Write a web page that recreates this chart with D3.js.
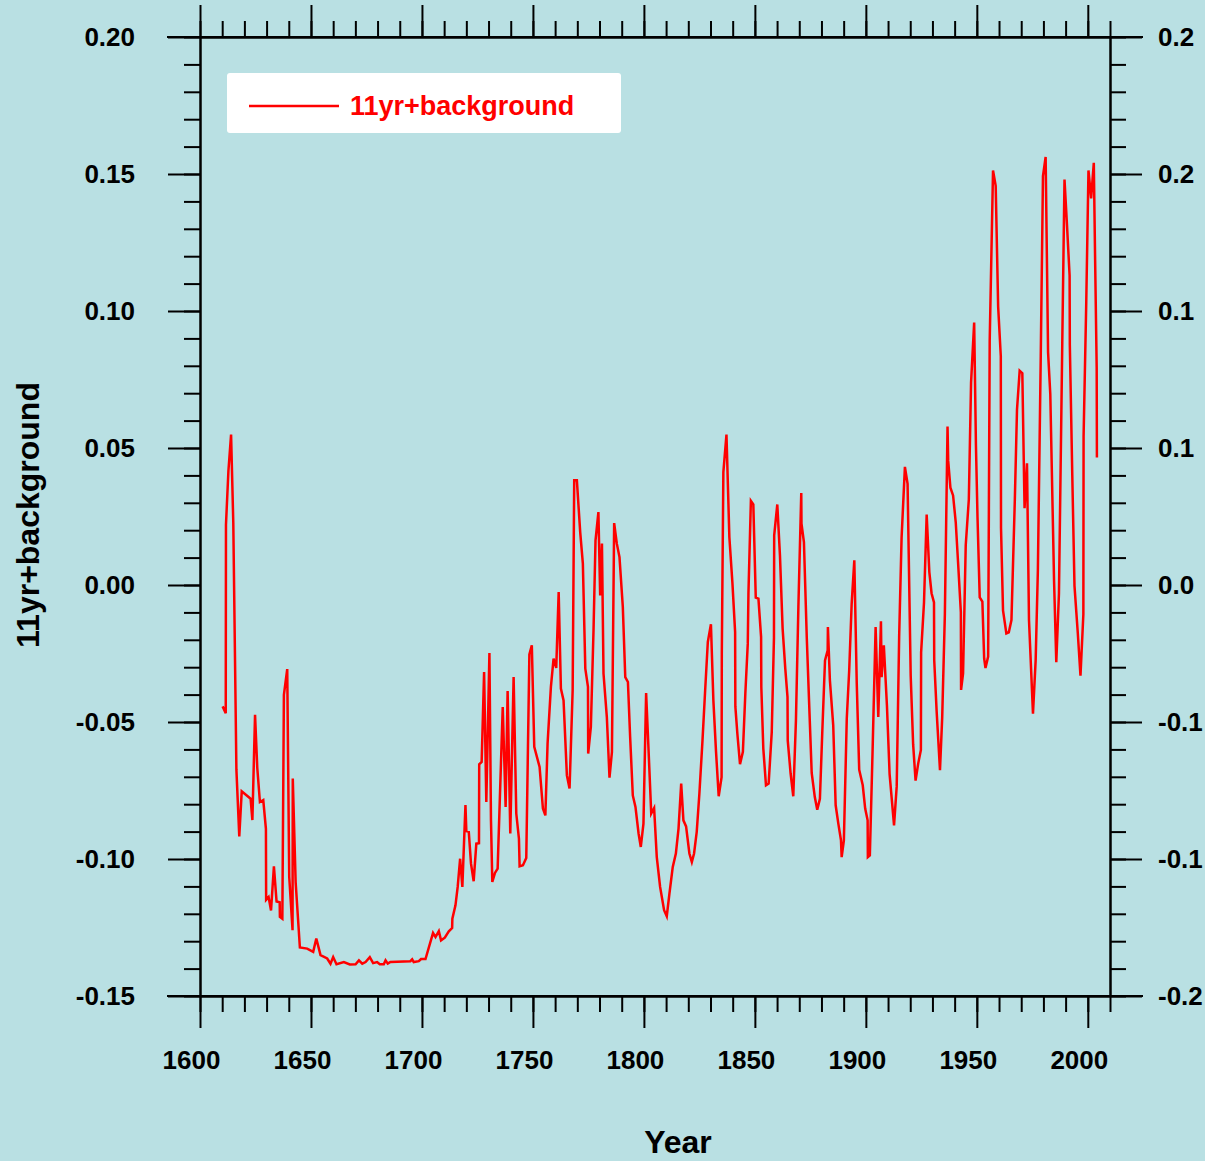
<!DOCTYPE html>
<html>
<head>
<meta charset="utf-8">
<script src="https://cdn.jsdelivr.net/npm/d3@7"></script>
<style>
  body { margin: 0; background: #b9e0e3; }
  svg { display: block; font-family: "Liberation Sans", Arial, sans-serif; }
  .axis path, .axis line { stroke: #000; stroke-width: 2; }
  .axis text { font-size: 26px; font-weight: bold; fill: #000; }
  .title { font-size: 32px; font-weight: bold; fill: #000; }
</style>
</head>
<body>
<div id="chart"></div>
<script>
// series vertices: year, value
var years = [
  1610.2, 1611.6, 1611.7, 1612.8, 1614.0, 1615.0, 1616.4, 1617.7, 1618.8, 1622.8,
  1623.6, 1624.8, 1625.8, 1627.0, 1628.5, 1629.7, 1629.8, 1630.9, 1632.0, 1633.3,
  1634.5, 1635.9, 1636.0, 1637.1, 1637.8, 1639.3, 1640.2, 1641.7, 1641.8, 1643.1,
  1645.0, 1648.3, 1651.0, 1652.4, 1654.3, 1657.3, 1658.8, 1660.0, 1661.5, 1664.8,
  1667.5, 1670.1, 1671.6, 1673.1, 1674.6, 1676.5, 1678.0, 1679.8, 1681.0, 1682.8,
  1683.6, 1684.6, 1685.8, 1694.8, 1695.6, 1696.3, 1698.6, 1699.6, 1701.6, 1705.0,
  1706.1, 1707.6, 1708.6, 1710.3, 1712.1, 1713.6, 1713.7, 1715.1, 1716.1, 1717.2,
  1718.2, 1719.6, 1720.0, 1721.1, 1722.1, 1723.3, 1724.5, 1725.7, 1725.8, 1726.9,
  1728.0, 1729.0, 1730.4, 1731.1, 1731.7, 1732.9, 1734.1, 1736.4, 1737.7, 1738.6,
  1739.8, 1741.3, 1742.5, 1743.7, 1744.0, 1745.5, 1747.0, 1748.4, 1749.5, 1750.6,
  1753.0, 1754.5, 1755.6, 1756.6, 1758.1, 1759.3, 1760.5, 1761.6, 1762.6, 1763.8,
  1765.3, 1766.5, 1767.9, 1768.6, 1769.8, 1771.3, 1772.5, 1773.6, 1774.8, 1774.9,
  1776.1, 1777.3, 1778.2, 1779.5, 1780.3, 1781.1, 1781.8, 1783.3, 1784.5, 1785.6,
  1786.6, 1787.8, 1789.0, 1790.5, 1791.6, 1792.8, 1793.8, 1795.0, 1796.2, 1797.6,
  1798.6, 1799.8, 1801.0, 1802.1, 1803.3, 1804.6, 1805.8, 1807.3, 1809.1, 1810.3,
  1811.5, 1813.0, 1814.4, 1815.6, 1816.8, 1817.8, 1819.0, 1820.5, 1821.6, 1822.6,
  1823.8, 1825.0, 1826.4, 1827.6, 1828.8, 1830.2, 1831.3, 1832.5, 1833.7, 1835.0,
  1835.1, 1835.8, 1837.2, 1838.5, 1839.9, 1841.1, 1841.2, 1842.1, 1843.3, 1844.6,
  1845.7, 1846.8, 1847.1, 1848.2, 1849.3, 1850.4, 1851.6, 1852.8, 1852.9, 1853.8,
  1855.0, 1856.2, 1857.6, 1858.6, 1858.7, 1860.1, 1861.3, 1862.5, 1863.7, 1864.7,
  1864.8, 1866.1, 1867.3, 1868.5, 1869.6, 1870.9, 1871.0, 1872.1, 1873.4, 1874.4,
  1875.6, 1877.0, 1878.1, 1879.3, 1880.4, 1881.6, 1882.8, 1882.9, 1883.8, 1885.3,
  1886.4, 1887.6, 1888.8, 1889.1, 1890.1, 1891.4, 1892.5, 1893.6, 1894.8, 1895.9,
  1897.0, 1898.6, 1899.7, 1900.8, 1900.9, 1901.8, 1903.0, 1904.4, 1905.6, 1906.8,
  1907.1, 1908.1, 1909.5, 1910.7, 1912.7, 1913.9, 1915.0, 1916.1, 1917.6, 1918.8,
  1920.2, 1921.3, 1922.4, 1923.6, 1924.8, 1924.9, 1926.2, 1927.4, 1928.6, 1929.6,
  1930.7, 1930.8, 1931.9, 1933.4, 1934.4, 1935.6, 1936.8, 1937.1, 1938.1, 1939.3,
  1940.5, 1941.6, 1942.8, 1942.9, 1943.8, 1945.0, 1946.4, 1947.4, 1948.8, 1949.6,
  1950.3, 1951.3, 1952.5, 1953.3, 1953.9, 1955.1, 1955.8, 1957.3, 1958.5, 1959.6,
  1960.8, 1960.9, 1961.8, 1963.3, 1964.4, 1965.6, 1967.1, 1968.1, 1969.3, 1970.5,
  1971.5, 1972.6, 1973.5, 1975.3, 1976.5, 1977.5, 1978.8, 1979.8, 1981.0, 1982.1,
  1983.1, 1984.8, 1985.8, 1987.0, 1988.5, 1989.5, 1990.6, 1991.8, 1991.9, 1993.0,
  1994.0, 1995.5, 1996.7, 1998.0, 1998.1, 1999.3, 2000.3, 2001.5, 2002.7, 2003.3,
  2004.0, 2004.1
];
var values = [
  -0.0443, -0.0468, 0.0220, 0.0416, 0.0549, 0.0227, -0.0674, -0.0918, -0.0753, -0.0780,
  -0.0858, -0.0474, -0.0667, -0.0792, -0.0785, -0.0890, -0.1149, -0.1139, -0.1188, -0.1027,
  -0.1155, -0.1158, -0.1211, -0.1218, -0.0401, -0.0307, -0.1065, -0.1260, -0.0706, -0.1086,
  -0.1323, -0.1327, -0.1339, -0.1290, -0.1351, -0.1363, -0.1382, -0.1358, -0.1384, -0.1376,
  -0.1385, -0.1384, -0.1370, -0.1382, -0.1376, -0.1358, -0.1380, -0.1376, -0.1384, -0.1384,
  -0.1370, -0.1382, -0.1376, -0.1373, -0.1366, -0.1376, -0.1373, -0.1365, -0.1365, -0.1270,
  -0.1285, -0.1263, -0.1297, -0.1287, -0.1264, -0.1252, -0.1218, -0.1169, -0.1102, -0.0999,
  -0.1102, -0.0803, -0.0898, -0.0901, -0.1017, -0.1081, -0.0944, -0.0942, -0.0654, -0.0646,
  -0.0318, -0.0792, -0.0248, -0.0859, -0.1084, -0.1051, -0.1035, -0.0445, -0.0810, -0.0387,
  -0.0907, -0.0336, -0.0834, -0.0926, -0.1027, -0.1023, -0.0996, -0.0253, -0.0220, -0.0591,
  -0.0664, -0.0816, -0.0841, -0.0579, -0.0372, -0.0269, -0.0303, -0.0026, -0.0378, -0.0421,
  -0.0695, -0.0743, -0.0384, 0.0382, 0.0382, 0.0193, 0.0078, -0.0305, -0.0372, -0.0615,
  -0.0518, -0.0165, 0.0163, 0.0266, -0.0038, 0.0151, -0.0323, -0.0482, -0.0703, -0.0609,
  0.0226, 0.0151, 0.0102, -0.0080, -0.0336, -0.0354, -0.0555, -0.0768, -0.0810, -0.0907,
  -0.0956, -0.0871, -0.0394, -0.0603, -0.0834, -0.0814, -0.0993, -0.1102, -0.1187, -0.1209,
  -0.1126, -0.1029, -0.0980, -0.0889, -0.0725, -0.0859, -0.0881, -0.0980, -0.1011, -0.0980,
  -0.0901, -0.0761, -0.0567, -0.0384, -0.0208, -0.0143, -0.0421, -0.0609, -0.0771, -0.0701,
  -0.0250, 0.0412, 0.0549, 0.0175, 0.0005, -0.0172, -0.0443, -0.0542, -0.0654, -0.0609,
  -0.0396, -0.0214, -0.0031, 0.0307, 0.0294, -0.0046, -0.0050, -0.0190, -0.0372, -0.0597,
  -0.0731, -0.0725, -0.0537, -0.0192, 0.0181, 0.0294, 0.0108, -0.0159, -0.0305, -0.0409,
  -0.0567, -0.0688, -0.0771, -0.0494, -0.0080, 0.0336, 0.0224, 0.0157, -0.0196, -0.0421,
  -0.0686, -0.0774, -0.0820, -0.0780, -0.0530, -0.0275, -0.0238, -0.0153, -0.0348, -0.0512,
  -0.0804, -0.0871, -0.0932, -0.0993, -0.0932, -0.0488, -0.0311, -0.0070, 0.0090, -0.0360,
  -0.0674, -0.0731, -0.0816, -0.0859, -0.0993, -0.0987, -0.0615, -0.0153, -0.0482, -0.0132,
  -0.0336, -0.0220, -0.0440, -0.0690, -0.0877, -0.0735, -0.0190, 0.0173, 0.0431, 0.0369,
  -0.0330, -0.0581, -0.0714, -0.0651, -0.0602, -0.0246, -0.0064, 0.0257, 0.0047, -0.0030,
  -0.0064, -0.0274, -0.0462, -0.0676, -0.0483, -0.0106, 0.0578, 0.0453, 0.0355, 0.0327,
  0.0229, 0.0075, -0.0099, -0.0383, -0.0323, 0.0145, 0.0313, 0.0739, 0.0958, 0.0510,
  0.0249, -0.0045, -0.0061, -0.0268, -0.0303, -0.0261, 0.0891, 0.1513, 0.1457, 0.1017,
  0.0835, 0.0207, -0.0093, -0.0177, -0.0173, -0.0128, 0.0305, 0.0640, 0.0782, 0.0773,
  0.0280, 0.0444, -0.0128, -0.0470, -0.0275, 0.0053, 0.0835, 0.1492, 0.1562, 0.0849,
  0.0696, 0.0014, -0.0282, -0.0031, 0.0884, 0.1480, 0.1317, 0.1129, 0.0877, 0.0403,
  -0.0003, -0.0177, -0.0331, -0.0107, 0.0542, 0.1031, 0.1513, 0.1411, 0.1541, 0.1185,
  0.0793, 0.0465
];

var seriesName = "11yr+background";
var xTicks = [1600, 1650, 1700, 1750, 1800, 1850, 1900, 1950, 2000];
var xMinorTicks = d3.range(1600, 2011, 10);
var yTicks = [-0.15, -0.10, -0.05, 0.00, 0.05, 0.10, 0.15, 0.20];
var yTickLabels = ["-0.15", "-0.10", "-0.05", "0.00", "0.05", "0.10", "0.15", "0.20"];
var yRightLabels = ["-0.2", "-0.1", "-0.1", "0.0", "0.1", "0.1", "0.2", "0.2"];
var yMinorTicks = d3.range(-15, 21).map((d) => d / 100);

let svg = d3.select('#chart').append('svg')
  .attr('width', 1205)
  .attr('height', 1161);

svg.append('rect').attr('width', 1205).attr('height', 1161).attr('fill', '#b9e0e3');

let xScale = d3.scaleLinear().domain([1600, 2010]).range([200, 1110]);
let yScale = d3.scaleLinear().domain([-0.15, 0.20]).range([996, 37]);

// minor ticks on all four sides
let minor = [
  [d3.axisBottom(xScale).tickValues(xMinorTicks), "translate(0,996)"],
  [d3.axisTop(xScale).tickValues(xMinorTicks), "translate(0,37)"],
  [d3.axisLeft(yScale).tickValues(yMinorTicks), "translate(200,0)"],
  [d3.axisRight(yScale).tickValues(yMinorTicks), "translate(1110,0)"]
];
minor.forEach((m) => {
  svg.append('g').attr('class', 'axis').attr('transform', m[1])
    .call(m[0].tickSize(16).tickSizeOuter(0).tickFormat(''));
});

// major ticks
let xBottom = svg.append('g').attr('class', 'axis').attr('transform', 'translate(0,996)')
  .call(d3.axisBottom(xScale).tickValues(xTicks).tickSize(32).tickSizeOuter(0).tickFormat(d3.format('d')));
xBottom.selectAll('text').attr('y', 64).attr('dy', '0.35em').attr('dx', -9);

svg.append('g').attr('class', 'axis').attr('transform', 'translate(0,37)')
  .call(d3.axisTop(xScale).tickValues(xTicks).tickSize(32).tickSizeOuter(0).tickFormat(''));

let yLeft = svg.append('g').attr('class', 'axis').attr('transform', 'translate(200,0)')
  .call(d3.axisLeft(yScale).tickValues(yTicks).tickSize(32).tickSizeOuter(0)
    .tickFormat((d, i) => yTickLabels[i]));
yLeft.selectAll('text').attr('x', -65);

let yRight = svg.append('g').attr('class', 'axis').attr('transform', 'translate(1110,0)')
  .call(d3.axisRight(yScale).tickValues(yTicks).tickSize(32).tickSizeOuter(0)
    .tickFormat((d, i) => yRightLabels[i]));
yRight.selectAll('text').attr('x', 48);

// frame lines extend past the corners
svg.append('g').selectAll('line')
  .data([[167, 37, 1143, 37], [167, 996, 1143, 996]]).enter()
  .append('line')
  .attr('x1', (d) => d[0]).attr('y1', (d) => d[1])
  .attr('x2', (d) => d[2]).attr('y2', (d) => d[3])
  .attr('stroke', '#000').attr('stroke-width', 2);

// the series
let line = d3.line()
  .x((d, i) => xScale(years[i]))
  .y((d) => yScale(d));

svg.append('path')
  .attr('d', line(values))
  .attr('fill', 'none')
  .attr('stroke', '#ff0000')
  .attr('stroke-width', 2.5)
  .attr('stroke-linejoin', 'miter');

// legend
let legend = svg.append('g').attr('transform', 'translate(227,73)');
legend.append('rect').attr('width', 394).attr('height', 60).attr('rx', 3).attr('fill', '#fff');
legend.append('line').attr('x1', 22).attr('x2', 112).attr('y1', 33).attr('y2', 33)
  .attr('stroke', '#ff0000').attr('stroke-width', 2.5);
legend.append('text').attr('x', 123).attr('y', 42)
  .attr('font-size', 27).attr('font-weight', 'bold').attr('fill', '#ff0000')
  .text(seriesName);

// axis titles
svg.append('text').attr('class', 'title')
  .attr('x', 678).attr('y', 1153).attr('text-anchor', 'middle')
  .text('Year');
svg.append('text').attr('class', 'title')
  .attr('transform', 'translate(39,515) rotate(-90)').attr('text-anchor', 'middle')
  .text(seriesName);
</script>
</body>
</html>
